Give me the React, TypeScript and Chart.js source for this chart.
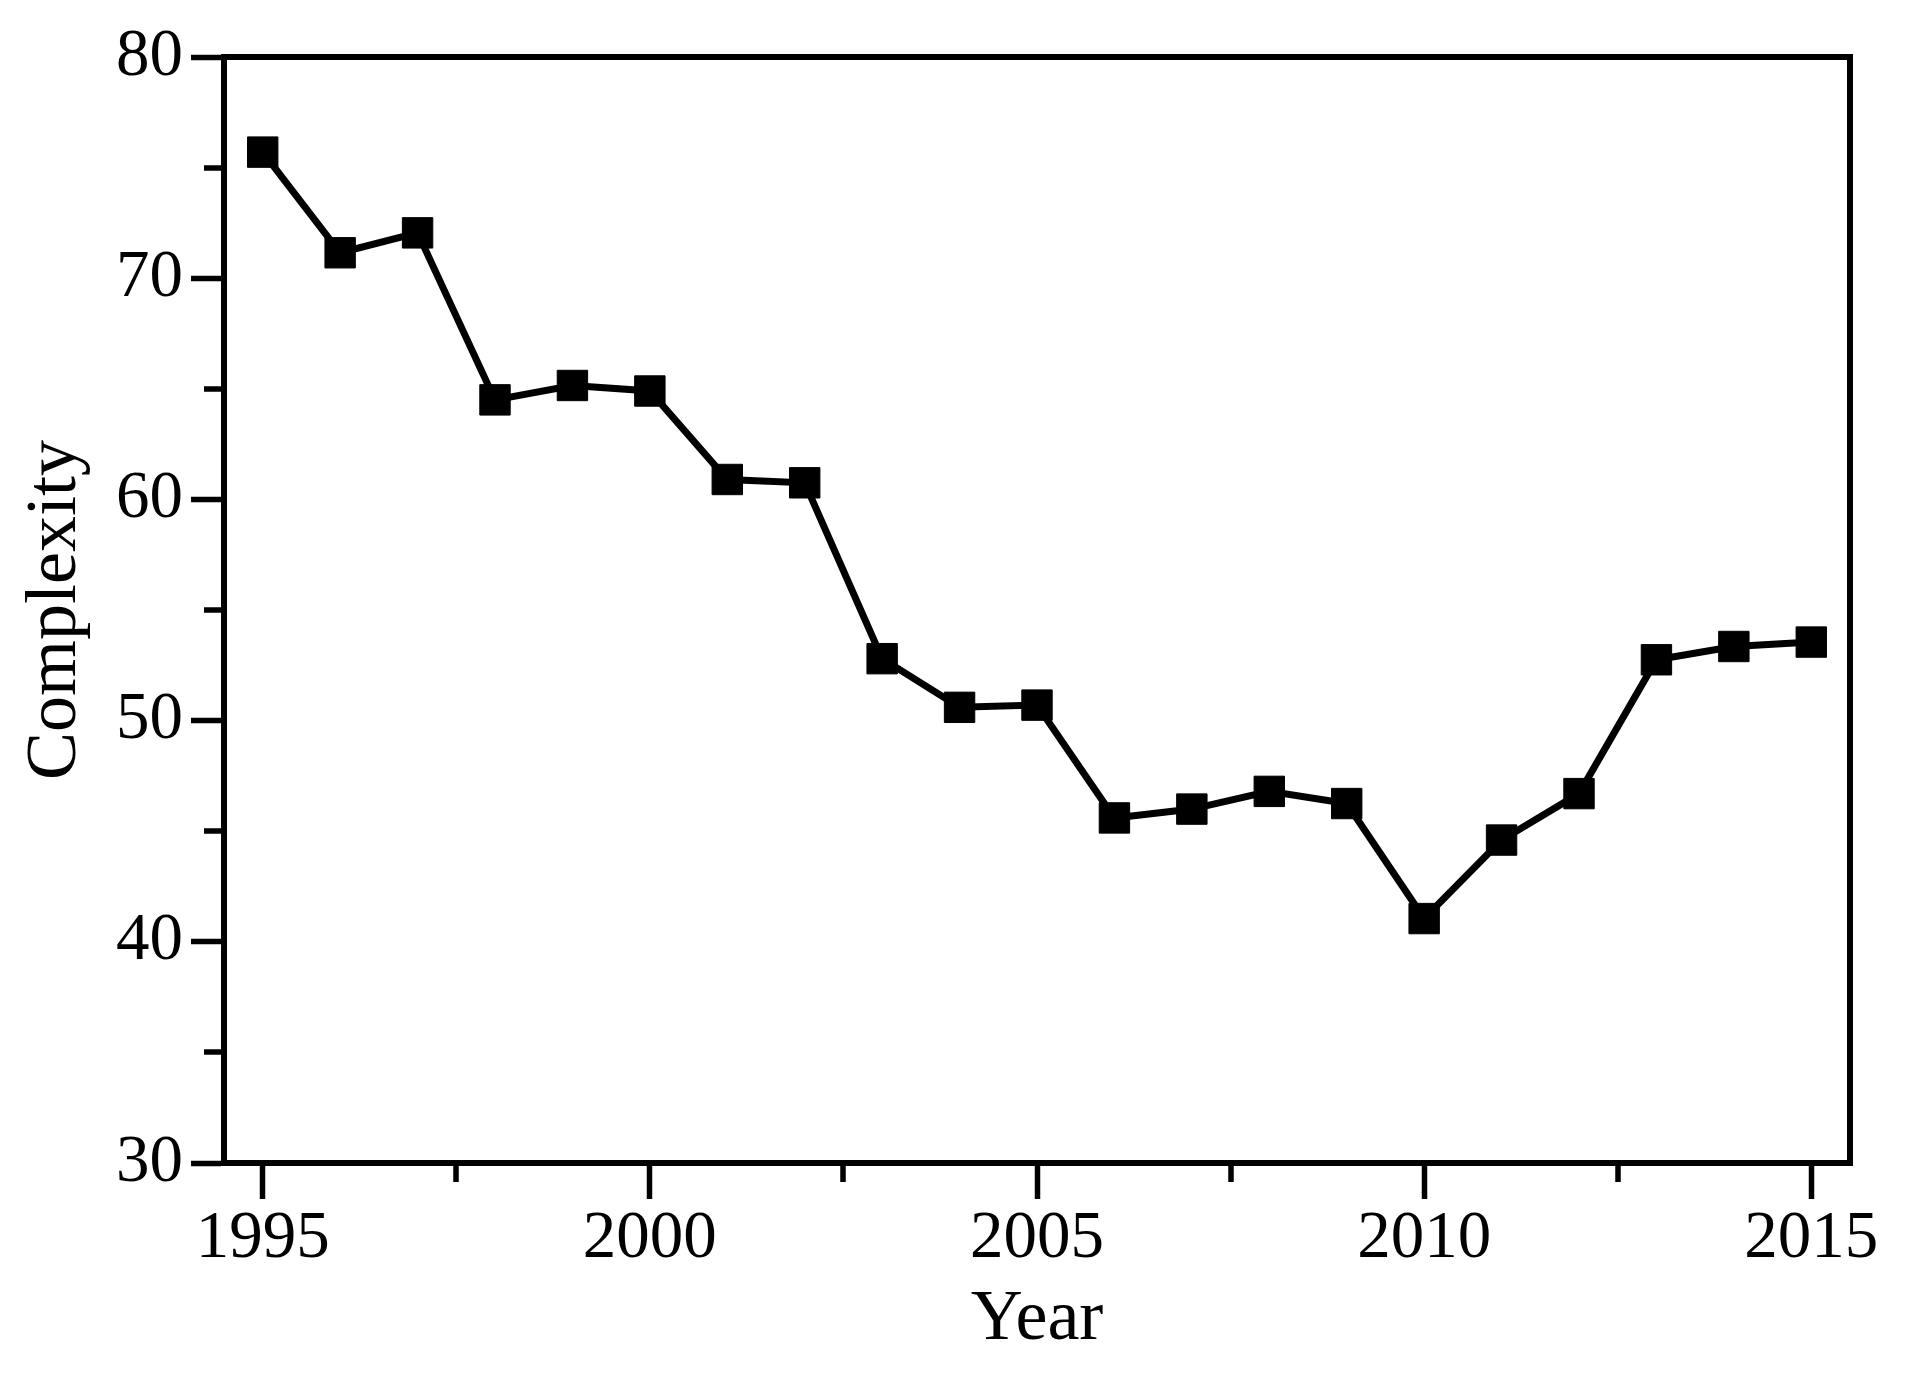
import React, { useEffect, useRef } from "react";
import { Chart, registerables } from "chart.js";

Chart.register(...registerables);

const years = [1995, 1996, 1997, 1998, 1999, 2000, 2001, 2002, 2003, 2004, 2005, 2006, 2007, 2008, 2009, 2010, 2011, 2012, 2013, 2014, 2015];
const complexity = [75.7, 71.15, 72.05, 64.5, 65.15, 64.9, 60.9, 60.75, 52.8, 50.6, 50.7, 45.6, 46.0, 46.8, 46.25, 41.05, 44.6, 46.7, 52.75, 53.35, 53.55];

const xMajorTicks = [1995, 2000, 2005, 2010, 2015];
const xMinorTicks = [1997.5, 2002.5, 2007.5, 2012.5];
const yMajorTicks = [30, 40, 50, 60, 70, 80];
const yMinorTicks = [35, 45, 55, 65, 75];

const xTitle = "Year";
const yTitle = "Complexity";

const FONT = "'Liberation Serif', 'Times New Roman', Times, serif";

const framePlugin = {
  id: "frameAndMinorTicks",
  afterDraw(chart: any) {
    const { ctx, chartArea, scales } = chart;
    const x = scales.x;
    const y = scales.y;
    ctx.save();
    ctx.strokeStyle = "#000";
    ctx.lineCap = "butt";
    ctx.lineWidth = 5.5;
    ctx.beginPath();
    for (const v of xMinorTicks) {
      const px = Math.round(x.getPixelForValue(v));
      ctx.moveTo(px, chartArea.bottom);
      ctx.lineTo(px, chartArea.bottom + 19);
    }
    for (const v of yMinorTicks) {
      const py = Math.round(y.getPixelForValue(v));
      ctx.moveTo(chartArea.left, py);
      ctx.lineTo(chartArea.left - 20, py);
    }
    ctx.stroke();
    ctx.lineWidth = 6;
    ctx.lineJoin = "miter";
    ctx.strokeRect(chartArea.left, chartArea.top, chartArea.right - chartArea.left, chartArea.bottom - chartArea.top);
    ctx.restore();
  },
};

export default function App() {
  const canvasRef = useRef<HTMLCanvasElement | null>(null);

  useEffect(() => {
    if (!canvasRef.current) return;
    const chart = new Chart(canvasRef.current, {
      type: "line",
      data: {
        datasets: [
          {
            data: years.map((yr, i) => ({ x: yr, y: complexity[i] })),
            borderColor: "#000",
            borderWidth: 7,
            tension: 0,
            pointStyle: "rect",
            pointRadius: 21.5,
            pointHoverRadius: 21.5,
            pointBackgroundColor: "#000",
            pointBorderColor: "#000",
            pointBorderWidth: 1,
            fill: false,
            clip: false as any,
          },
        ],
      },
      options: {
        animation: false,
        responsive: false,
        devicePixelRatio: 1,
        layout: { padding: { top: 57, right: 58, left: 0, bottom: 0 } },
        plugins: {
          legend: { display: false },
          tooltip: { enabled: false },
        },
        scales: {
          x: {
            type: "linear",
            min: 1994.5,
            max: 2015.5,
            afterBuildTicks: (s: any) => {
              s.ticks = xMajorTicks.map((v) => ({ value: v }));
            },
            afterFit: (s: any) => {
              s.height = 221;
            },
            ticks: {
              color: "#000",
              font: { family: FONT, size: 67 },
              padding: 0,
              maxRotation: 0,
              autoSkip: false,
              callback: (v: any) => String(v),
            },
            grid: {
              drawOnChartArea: false,
              tickLength: 36,
              tickWidth: 5.5,
              tickColor: "#000",
            },
            border: { display: true, color: "#000", width: 6 },
            title: {
              display: true,
              text: xTitle,
              color: "#000",
              font: { family: FONT, size: 72 },
              padding: { top: 0, bottom: 21 },
            },
          },
          y: {
            type: "linear",
            min: 30,
            max: 80,
            afterBuildTicks: (s: any) => {
              s.ticks = yMajorTicks.map((v) => ({ value: v }));
            },
            afterFit: (s: any) => {
              s.width = 224;
            },
            ticks: {
              color: "#000",
              font: { family: FONT, size: 67 },
              padding: 8,
              autoSkip: false,
              callback: (v: any) => String(v),
            },
            grid: {
              drawOnChartArea: false,
              tickLength: 33,
              tickWidth: 5.5,
              tickColor: "#000",
            },
            border: { display: true, color: "#000", width: 6 },
            title: {
              display: true,
              text: yTitle,
              color: "#000",
              font: { family: FONT, size: 72 },
              padding: { top: 13, bottom: 0 },
            },
          },
        },
      },
      plugins: [framePlugin],
    });
    return () => chart.destroy();
  }, []);

  return (
    <div style={{ position: "absolute", left: 0, top: 0, width: 1908, height: 1384, background: "#fff" }}>
      <canvas ref={canvasRef} width={1908} height={1384} style={{ display: "block", width: 1908, height: 1384 }} />
    </div>
  );
}
